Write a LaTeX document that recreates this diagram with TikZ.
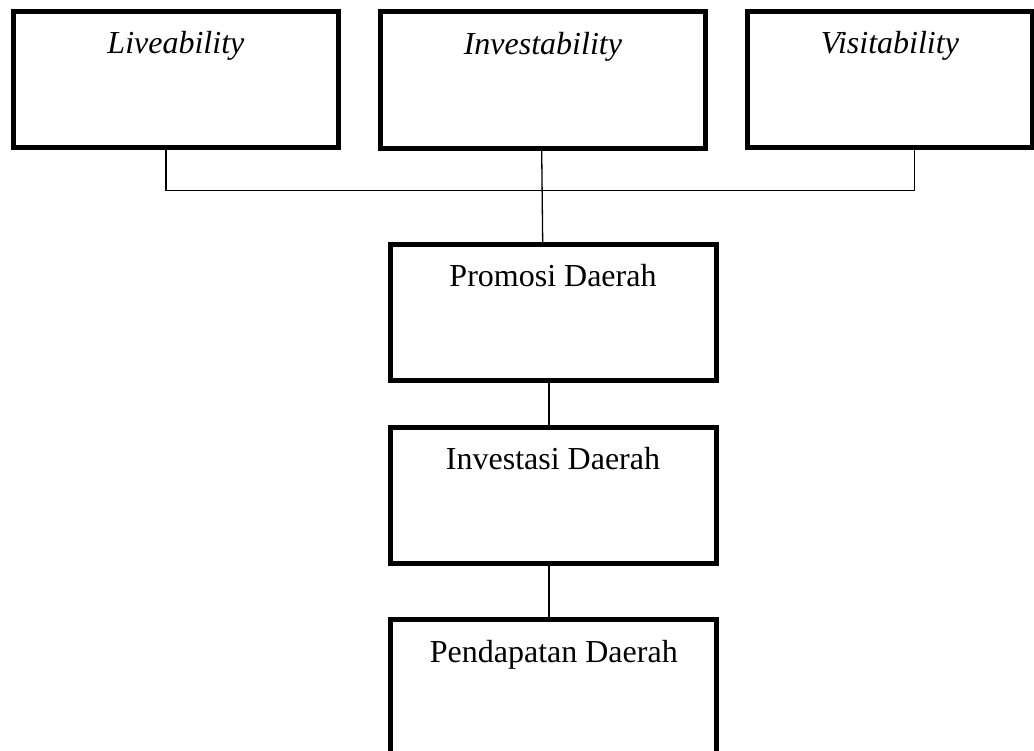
\documentclass[tikz,border=0pt]{standalone}
\usepackage{fontspec}
\setmainfont{Liberation Serif}
\begin{document}
\begin{tikzpicture}[x=1pt,y=-1pt,
  box/.style={draw=black,line width=5pt,rectangle,outer sep=0pt,inner sep=0pt,fill=white},
  conn/.style={draw=black,line width=1.3pt},
  ttext/.style={anchor=base,inner sep=0pt,font=\fontsize{32}{38}\selectfont},
  ittext/.style={ttext,font=\fontsize{32}{38}\selectfont\itshape}]
\useasboundingbox (0,0) rectangle (1034,751);
\fill[white] (0,0) rectangle (1034,751);
% connectors first
\coordinate (j) at (542,190.5);
% boxes
\node[box,minimum width=325.2pt,minimum height=135.8pt] (b1) at (175.9,79.6) {};
\node[box,minimum width=325.8pt,minimum height=136.8pt] (b2) at (542.9,80.1) {};
\node[box,minimum width=284.2pt,minimum height=135.8pt] (b3) at (889.9,79.6) {};
\node[box,minimum width=326pt,minimum height=135.5pt] (b4) at (553,312.75) {};
\node[box,minimum width=326pt,minimum height=135.5pt] (b5) at (553,495.25) {};
\node[box,minimum width=325.7pt,minimum height=135.5pt] (b6) at (553.8,687.25) {};
% texts
\node[ittext] (t1) at ([yshift=-41.6pt]b1.north) {Liveability};
\node[ittext] (t2) at ([yshift=-42.6pt]b2.north) {Investability};
\node[ittext] (t3) at ([yshift=-41.6pt]b3.north) {Visitability};
\node[ttext] (t4) at ([yshift=-41.7pt]b4.north) {Promosi Daerah};
\node[ttext] (t5) at ([yshift=-41.8pt]b5.north) {Investasi Daerah};
\node[ttext] (t6) at ([yshift=-42.8pt]b6.north) {Pendapatan Daerah};
% connectors
\draw[conn] ([xshift=-9.9pt,yshift=-2.5pt]b1.south) |- (j) -| ([xshift=24.4pt,yshift=-2.5pt]b3.south);
\draw[conn] ([xshift=-1.2pt,yshift=-2.5pt]b2.south) -- ([xshift=-10.3pt,yshift=2.5pt]b4.north);
\draw[conn] ([xshift=-4pt,yshift=-2.5pt]b4.south) -- ([xshift=-4pt,yshift=2.5pt]b5.north);
\draw[conn] ([xshift=-4pt,yshift=-2.5pt]b5.south) -- ([xshift=-4.8pt,yshift=2.5pt]b6.north);
\end{tikzpicture}
\end{document}
